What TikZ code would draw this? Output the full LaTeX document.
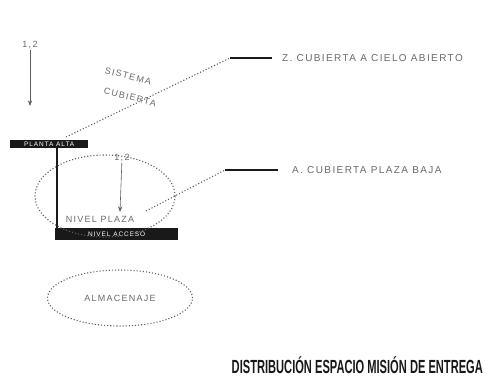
\documentclass[tikz,border=0pt]{standalone}
\usepackage{fontspec}
\setmainfont{Liberation Sans}
\usetikzlibrary{arrows.meta,positioning,calc,shapes.geometric}
\definecolor{Ink}{RGB}{25,25,25}
\definecolor{DotGray}{RGB}{95,95,95}
\definecolor{LabelGray}{RGB}{105,105,105}
\newfontfamily\widesans[LetterSpace=14]{Liberation Sans}
\tikzset{
  levelbar/.style={fill=Ink,text=white,inner sep=0pt,font=\widesans\fontsize{6.5}{6.5}\selectfont,minimum height=8pt,anchor=north west},
  leader/.style={draw=DotGray,dotted,line width=1.1pt},
  tick/.style={draw=Ink,line width=1.3pt},
  zonelabel/.style={text=LabelGray,font=\widesans\fontsize{10}{10}\selectfont,anchor=west,inner sep=0pt},
  smalllabel/.style={text=LabelGray,font=\widesans\fontsize{9}{9}\selectfont,inner sep=1pt},
  zone/.style={draw=DotGray,dotted,line width=1.1pt,ellipse,inner sep=0pt},
  levelarrow/.style={->,>=Stealth,draw=DotGray,semithick}
}
\begin{document}
\begin{tikzpicture}[x=1pt,y=-1pt]
\useasboundingbox (0,0) rectangle (485,385);
% upper level
\node[smalllabel](hA) at (30,45){1,2};
\coordinate(hAend) at (30,106);
\draw[levelarrow](hA)--(hAend);
\node[levelbar,minimum width=78pt](barA) at (10,140){PLANTA ALTA};
\node[smalllabel,rotate=-14](sis) at (128,76){SISTEMA};
\node[smalllabel,rotate=-14](cub) at (130,97){CUBIERTA};
\coordinate(kA0) at (66,137);
\coordinate(kA) at (230,58);
\coordinate(kAe) at (272,58);
\node[zonelabel](lblA) at (282,58){Z. CUBIERTA A CIELO ABIERTO};
\draw[leader](kA0)--(kA);
\draw[tick](kA)--(kAe);
% lower level
\node[levelbar,minimum width=123pt,minimum height=12pt](barB) at (55,228){NIVEL ACCESO};
\draw[Ink,line width=1.6pt](barA.south west-|57,0)--(barB.north west-|57,0);
\node[smalllabel](hB) at (122,158){1,2};
\coordinate(hBend) at (120,212);
\draw[levelarrow](hB)--(hBend);
\node[smalllabel](lvl) at (100,219){NIVEL PLAZA};
\node[zone,minimum width=140pt,minimum height=82pt](zB) at (105,196){};
\coordinate(kB0) at (146,211);
\coordinate(kB) at (225,170);
\coordinate(kBe) at (278,170);
\node[zonelabel](lblB) at (292,170){A. CUBIERTA PLAZA BAJA};
\draw[leader](kB0)--(kB);
\draw[tick](kB)--(kBe);
% storage
\node[zone,minimum width=145pt,minimum height=56pt](zC) at (120,298){};
\node[smalllabel](store) at (zC){ALMACENAJE};
% caption
\node[anchor=east,inner sep=0pt,font=\fontsize{19}{19}\selectfont\bfseries,xscale=0.585,text=Ink](cap) at (483,365){DISTRIBUCIÓN ESPACIO MISIÓN DE ENTREGA};
\end{tikzpicture}
\end{document}
